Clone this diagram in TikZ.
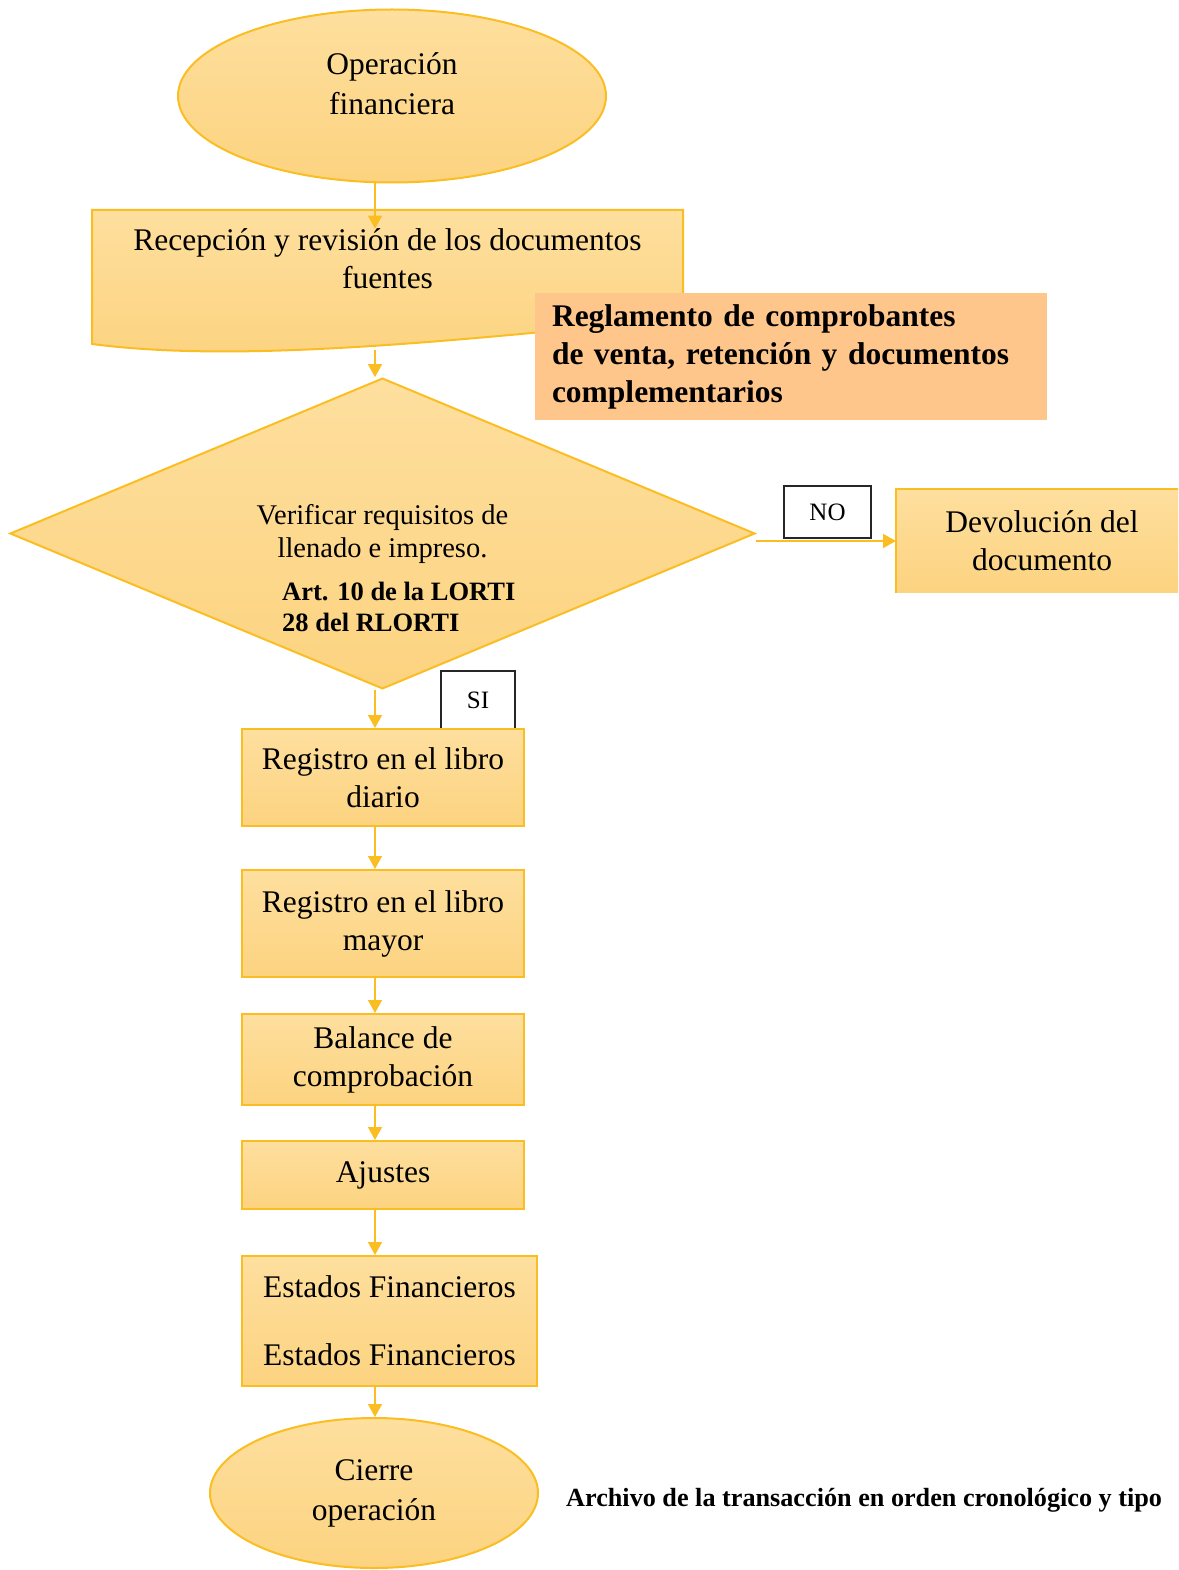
\documentclass[tikz,border=0pt]{standalone}
\usepackage{fontspec}
\setmainfont{Liberation Serif}
\usetikzlibrary{shapes.geometric,arrows.meta,calc}

\definecolor{borde}{RGB}{250,190,35}
\definecolor{fondoA}{RGB}{254,223,158}
\definecolor{fondoB}{RGB}{252,211,128}
\definecolor{norma}{RGB}{255,198,140}

\begin{document}
\begin{tikzpicture}[x=1pt,y=-1pt,
  caja/.style={rectangle, draw=borde, line width=2pt, top color=fondoA, bottom color=fondoB,
    align=center, font=\fontsize{31.5}{38}\selectfont, inner sep=0pt, minimum width=282pt},
  elipse/.style={ellipse, draw=borde, line width=2pt, top color=fondoA, bottom color=fondoB,
    align=center, font=\fontsize{31.5}{40}\selectfont, inner sep=0pt},
  etiqueta/.style={rectangle, draw=black!85, line width=1.8pt, fill=white,
    font=\fontsize{25}{28}\selectfont, inner sep=0pt},
  flecha/.style={draw=borde, line width=1.5pt, -{Triangle[width=14pt,length=13pt]}}
]
\useasboundingbox (0,0) rectangle (1178,1570);
\clip (0,0) rectangle (1178,1570);
\coordinate (eje) at (375,0);
\coordinate (recepfin) at (375,350);

% inicio
\node[elipse, minimum width=428pt, minimum height=173pt, text depth=25pt] (opfin) at (392,96)
  {Operación\\financiera};

% documento fuente
\filldraw[draw=borde, line width=2pt, top color=fondoA, bottom color=fondoB]
  (92,210) -- (683,210) -- (683,318) .. controls (420,345) and (230,362) .. (92,344) -- cycle;
\node[font=\fontsize{31.5}{38}\selectfont, align=center, inner sep=0pt] (recep) at (387.5,259)
  {Recepción y revisión de los documentos\\fuentes};

\node[fill=norma, text width=478pt, inner xsep=17pt, inner ysep=0pt, minimum height=127pt,
  align=left, font=\bfseries\fontsize{31.5}{38}\selectfont] (regla) at (791,356.5)
  {Reglamento de comprobantes\\de venta, retención y documentos\\complementarios};

% decision
\node[diamond, draw=borde, line width=2pt, top color=fondoA, bottom color=fondoB,
  minimum width=745pt, minimum height=303pt, inner sep=0pt, align=center,
  font=\fontsize{28.5}{33}\selectfont] (verif) at (382.5,533.5)
  {Verificar requisitos de\\llenado e impreso.};
\node[anchor=west, align=left, inner sep=0pt, font=\bfseries\fontsize{26.5}{31}\selectfont]
  (art) at (282,606.5) {Art. 10 de la LORTI\\28 del RLORTI};

\node[etiqueta, minimum width=87pt, minimum height=52pt] (no) at (827.5,512) {NO};
\node[caja, draw=none, minimum width=290pt, minimum height=102pt] (devol) at (1042,541)
  {Devolución del\\documento};
\draw[borde, line width=2pt] (devol.south west) -- (devol.north west) -- (devol.north east);

\node[etiqueta, minimum width=74pt, minimum height=58pt] (si) at (478,700) {SI};

% registros
\node[caja, minimum height=97pt] (diario) at (383,777.5) {Registro en el libro\\diario};
\node[caja, minimum height=107pt] (mayor) at (383,923.5) {Registro en el libro\\mayor};
\node[caja, minimum height=91pt] (balance) at (383,1059.5) {Balance de\\comprobación};
\node[caja, minimum height=68pt] (ajustes) at (383,1175) {Ajustes};
\node[caja, minimum width=295pt, minimum height=130pt] (estados) at (389.5,1321)
  {Estados Financieros\\[30pt]Estados Financieros};

% cierre
\node[elipse, minimum width=328pt, minimum height=150pt] (cierre) at (374,1493) {Cierre\\operación};
\node[anchor=west, inner sep=0pt, font=\bfseries\fontsize{26.2}{30}\selectfont] (archivo) at (566,1500)
  {Archivo de la transacción en orden cronológico y tipo};

% flechas
\draw[flecha] (opfin.south -| eje) -- (recep.north -| eje);
\draw[flecha] (recepfin) -- (verif.north -| eje);
\draw[flecha] (verif.south -| eje) -- (diario.north -| eje);
\foreach \a/\b in {diario/mayor, mayor/balance, balance/ajustes, ajustes/estados, estados/cierre}
  \draw[flecha] (\a.south -| eje) -- (\b.north -| eje);
\draw[flecha] (verif.east |- devol.west) -- (devol.west);
\end{tikzpicture}
\end{document}
